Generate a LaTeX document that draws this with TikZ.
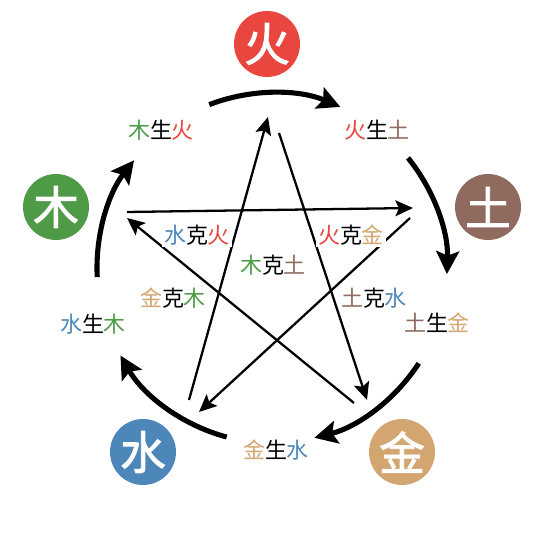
\documentclass[tikz,border=0pt]{standalone}
\usepackage{fontspec}
\setmainfont{Noto Sans CJK SC}
\newfontfamily\elemfont{Noto Sans CJK SC}[RawFeature={embolden=2}]
\usetikzlibrary{arrows.meta,positioning}

\definecolor{firered}{HTML}{E8463E}
\definecolor{woodgreen}{HTML}{4E9A47}
\definecolor{earthbrown}{HTML}{8E6B5E}
\definecolor{waterblue}{HTML}{4D87BA}
\definecolor{metalgold}{HTML}{D3A571}

\newcommand{\cFire}{\textcolor{firered}{火}}
\newcommand{\cWood}{\textcolor{woodgreen}{木}}
\newcommand{\cEarth}{\textcolor{earthbrown}{土}}
\newcommand{\cWater}{\textcolor{waterblue}{水}}
\newcommand{\cMetal}{\textcolor{metalgold}{金}}

\begin{document}
\begin{tikzpicture}[x=0.02cm, y=0.02cm, font=\fontsize{12.5pt}{14pt}\selectfont,
  elem/.style={circle, fill=#1, text=white, minimum size=1.32cm, inner sep=0pt, font=\elemfont\fontsize{26pt}{26pt}\selectfont},
  rel/.style={inner sep=1pt},
  cyc/.style={line width=2.9pt, -{Stealth[length=13pt,width=13pt,inset=2.5pt]}},
  ke/.style={line width=1.3pt, -{Stealth[length=10pt,width=9pt,inset=2pt]}}]
\useasboundingbox (0,0) rectangle (540,540);

% the five elements
\node[elem=firered] (fire) at (267,496) {火};
\node[elem=earthbrown] (earth) at (488,333) {土};
\node[elem=metalgold] (metal) at (402,88) {金};
\node[elem=waterblue] (water) at (143,88) {水};
\node[elem=woodgreen] (wood) at (56,333) {木};

% generating cycle
\coordinate (c) at (272,272);
\draw[cyc] ([shift={(111:175)}]c) arc[start angle=111, end angle=67, radius=175];
\draw[cyc] ([shift={(39:175)}]c) arc[start angle=39, end angle=-2, radius=175];
\draw[cyc] ([shift={(-33:175)}]c) arc[start angle=-33, end angle=-76, radius=175];
\draw[cyc] ([shift={(-105:175)}]c) arc[start angle=-105, end angle=-150, radius=175];
\draw[cyc] ([shift={(183:175)}]c) arc[start angle=183, end angle=142, radius=175];

\node[rel] (woodfire) at (161,410) {\cWood 生\cFire};
\node[rel] (fireearth) at (377,410) {\cFire 生\cEarth};
\node[rel] (earthmetal) at (437,217) {\cEarth 生\cMetal};
\node[rel] (metalwater) at (276,90) {\cMetal 生\cWater};
\node[rel] (waterwood) at (93,216) {\cWater 生\cWood};

% controlling star
\coordinate (waterA) at (189,140);
\coordinate (fireA) at (268,423);
\coordinate (fireB) at (279,407);
\coordinate (metalA) at (367,140);
\coordinate (woodA) at (127,328);
\coordinate (earthA) at (413,332);
\coordinate (earthB) at (410,322);
\coordinate (waterB) at (199,128);
\coordinate (metalB) at (354,137);
\coordinate (woodB) at (127,322);
\draw[ke] (waterA) -- (fireA);
\draw[ke] (fireB) -- (metalA);
\draw[ke] (woodA) -- (earthA);
\draw[ke] (earthB) -- (waterB);
\draw[ke] (metalB) -- (woodB);

\node[rel, fill=white] (waterfire) at (197,305) {\cWater 克\cFire};
\node[rel, fill=white] (firemetal) at (351,305) {\cFire 克\cMetal};
\node[rel] (woodearth) at (273,275) {\cWood 克\cEarth};
\node[rel, fill=white] (metalwood) at (173,242) {\cMetal 克\cWood};
\node[rel, fill=white] (earthwater) at (374,242) {\cEarth 克\cWater};
\end{tikzpicture}
\end{document}
